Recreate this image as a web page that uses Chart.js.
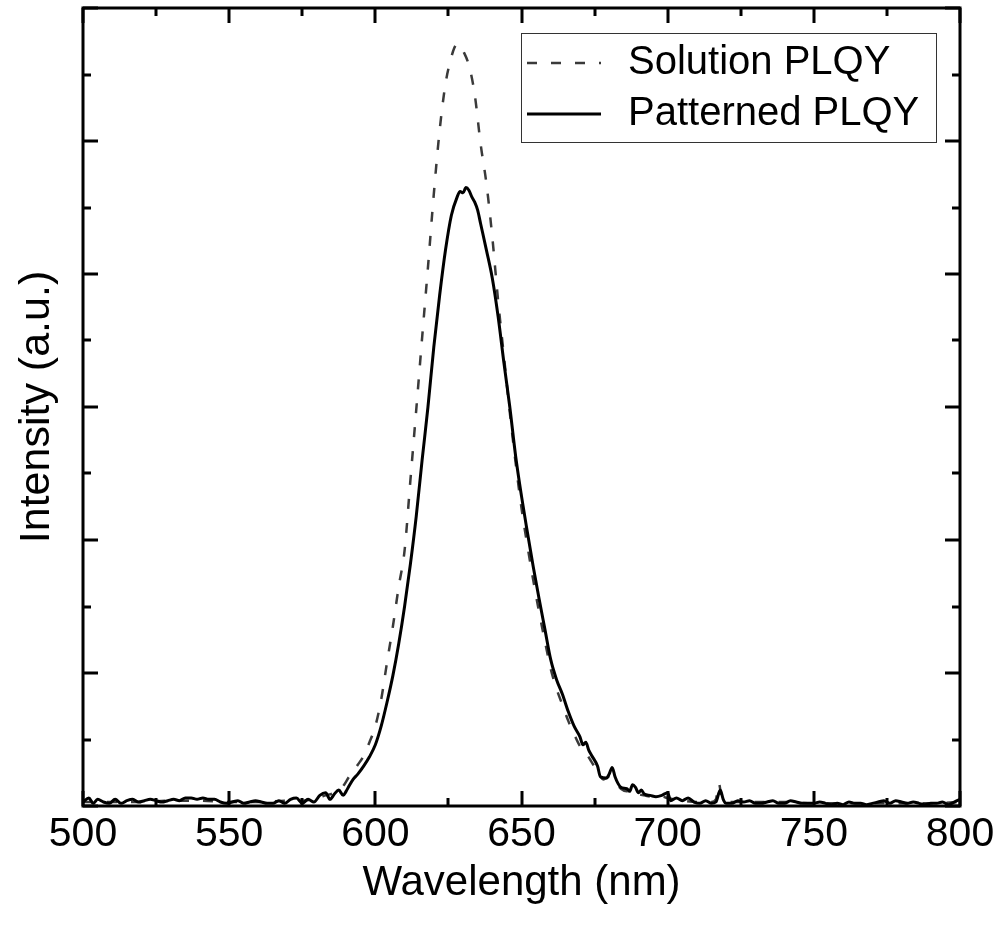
<!DOCTYPE html>
<html>
<head>
<meta charset="utf-8">
<script src="https://cdn.jsdelivr.net/npm/chart.js@4.4.0/dist/chart.umd.min.js"></script>
<style>
  body { margin: 0; background: #fff; }
  #wrap { width: 1000px; height: 935px; }
</style>
</head>
<body>
<div id="wrap"><canvas id="plChart"></canvas></div>
<script>
// Patterned PLQY spectrum (solid line)
const patternedNm = [500, 502, 503.5, 505, 507, 509, 511, 513, 515, 517, 519, 521, 523, 525, 527, 529, 531, 533, 535, 537, 539, 541, 543, 545, 547, 549, 551, 553, 555, 557, 559, 561, 563, 565, 567, 569, 571, 573, 575, 577, 579, 581, 583, 584.5, 586, 587.5, 589, 590, 591, 592.4, 594, 596, 598, 600, 602, 604, 606, 608, 610, 612, 614, 616, 618, 620, 622, 624, 626, 628, 629, 630, 631, 632, 633, 634, 635, 636, 638, 640, 642, 644, 646, 648, 650, 652, 654, 656, 658, 660, 662, 664, 666, 668, 670, 671, 672, 673, 674, 676, 677, 679, 680, 681, 682, 683, 684, 686, 687, 688, 689, 690, 691, 692, 694, 696, 698, 700, 701, 703, 705, 707, 709, 711, 713, 715, 716.5, 718, 719, 720, 722, 724, 726, 728, 730, 732, 734, 736, 738, 740, 742, 744, 746, 748, 750, 752, 754, 756, 758, 760, 762, 764, 766, 768, 770, 772, 774, 776, 778, 780, 782, 784, 786, 788, 790, 792, 794, 796, 798, 800];
const patternedInt = [0.03, 0.06, 0.02, 0.05, 0.03, 0.02, 0.05, 0.02, 0.04, 0.05, 0.03, 0.04, 0.05, 0.04, 0.03, 0.04, 0.05, 0.04, 0.06, 0.06, 0.05, 0.06, 0.05, 0.05, 0.03, 0.02, 0.03, 0.04, 0.02, 0.03, 0.04, 0.03, 0.02, 0.02, 0.04, 0.02, 0.05, 0.06, 0.02, 0.05, 0.03, 0.08, 0.10, 0.05, 0.09, 0.12, 0.08, 0.11, 0.15, 0.20, 0.24, 0.30, 0.37, 0.46, 0.60, 0.78, 0.98, 1.22, 1.50, 1.82, 2.18, 2.60, 3.00, 3.45, 3.84, 4.18, 4.44, 4.58, 4.62, 4.61, 4.65, 4.63, 4.58, 4.54, 4.48, 4.38, 4.18, 3.97, 3.68, 3.33, 3.00, 2.63, 2.33, 2.06, 1.80, 1.56, 1.33, 1.10, 0.95, 0.84, 0.71, 0.60, 0.52, 0.46, 0.48, 0.42, 0.38, 0.30, 0.22, 0.21, 0.24, 0.29, 0.22, 0.17, 0.14, 0.13, 0.11, 0.16, 0.14, 0.10, 0.12, 0.09, 0.08, 0.07, 0.08, 0.10, 0.04, 0.06, 0.04, 0.06, 0.03, 0.02, 0.04, 0.02, 0.03, 0.12, 0.05, 0.02, 0.02, 0.04, 0.03, 0.04, 0.02, 0.02, 0.03, 0.04, 0.02, 0.02, 0.04, 0.03, 0.02, 0.02, 0.02, 0.03, 0.02, 0.01, 0.02, 0.01, 0.03, 0.02, 0.02, 0.01, 0.02, 0.03, 0.04, 0.02, 0.04, 0.03, 0.02, 0.03, 0.02, 0.01, 0.02, 0.02, 0.03, 0.01, 0.03, 0.05];

// Solution PLQY spectrum (dashed line)
const solutionNm = [500, 510, 520, 530, 540, 550, 560, 570, 575, 580, 583, 586, 589, 591, 592.4, 594, 595.8, 598, 600, 602, 604, 606, 608, 610, 612, 614, 616, 618, 620, 622, 624, 626, 627, 628, 629, 630, 632, 634, 636, 638, 640, 642, 644, 646, 648, 650, 652, 654, 656, 658, 660, 662, 664, 666, 668, 670, 672, 674, 676, 678, 680, 682, 684, 686, 688, 690, 692, 694, 696, 698, 700, 705, 710, 715, 716.5, 717.5, 718.5, 720, 730, 740, 750, 760, 770, 780, 790, 800];
const solutionInt = [0.03, 0.03, 0.03, 0.04, 0.04, 0.03, 0.03, 0.04, 0.04, 0.06, 0.08, 0.10, 0.15, 0.22, 0.26, 0.31, 0.37, 0.48, 0.60, 0.80, 1.08, 1.35, 1.65, 1.92, 2.45, 2.98, 3.52, 4.05, 4.60, 5.08, 5.43, 5.63, 5.70, 5.73, 5.72, 5.68, 5.57, 5.35, 4.98, 4.68, 4.28, 3.80, 3.38, 2.96, 2.58, 2.24, 1.96, 1.70, 1.46, 1.24, 1.03, 0.88, 0.76, 0.64, 0.54, 0.45, 0.40, 0.33, 0.26, 0.20, 0.22, 0.18, 0.13, 0.11, 0.12, 0.09, 0.08, 0.07, 0.06, 0.07, 0.06, 0.04, 0.03, 0.03, 0.05, 0.17, 0.06, 0.03, 0.03, 0.03, 0.02, 0.02, 0.02, 0.02, 0.02, 0.03];

const xTickLabels = [500, 550, 600, 650, 700, 750, 800];

const FONT = '"Liberation Sans", Arial, Helvetica, sans-serif';

function toPoints(xs, ys) {
    return xs.map((x, i) => ({ x: x, y: ys[i] }));
}

// inward ticks on all four sides + black frame
const frameTicks = {
    id: 'frameTicks',
    afterDraw(chart) {
        const { ctx, chartArea: a, scales } = chart;
        const xs = scales.x, ys = scales.y;
        ctx.save();
        ctx.strokeStyle = '#000';
        ctx.lineWidth = 3;
        ctx.lineCap = 'butt';
        ctx.beginPath();
        // x ticks, major every 50, minor every 25
        for (let v = xs.min; v <= xs.max; v += 25) {
            const px = Math.round(xs.getPixelForValue(v));
            const len = (v % 50 === 0) ? 15 : 8;
            ctx.moveTo(px, a.bottom); ctx.lineTo(px, a.bottom - len);
            ctx.moveTo(px, a.top); ctx.lineTo(px, a.top + len);
        }
        // y ticks, major every 1, minor every 0.5
        for (let v = ys.min; v <= ys.max; v += 0.5) {
            const py = Math.round(ys.getPixelForValue(v));
            const len = (v % 1 === 0) ? 15 : 8;
            ctx.moveTo(a.left, py); ctx.lineTo(a.left + len, py);
            ctx.moveTo(a.right, py); ctx.lineTo(a.right - len, py);
        }
        ctx.stroke();
        ctx.strokeRect(a.left, a.top, a.right - a.left, a.bottom - a.top);
        ctx.restore();
    }
};

// boxed legend inside the top-right corner
const boxLegend = {
    id: 'boxLegend',
    afterDraw(chart) {
        const { ctx, chartArea: a } = chart;
        const left = a.right - 439, top = a.top + 25;
        const w = 415, h = 109;
        ctx.save();
        ctx.fillStyle = '#fff';
        ctx.fillRect(left, top, w, h);
        ctx.strokeStyle = '#333';
        ctx.lineWidth = 1;
        ctx.strokeRect(left + 0.5, top + 0.5, w, h);
        ctx.font = '40px ' + FONT;
        ctx.textBaseline = 'middle';
        ctx.textAlign = 'left';
        chart.data.datasets.forEach((ds, i) => {
            const y = top + 30 + i * 51;
            ctx.strokeStyle = ds.borderColor;
            ctx.lineWidth = ds.borderWidth;
            ctx.setLineDash(ds.borderDash || []);
            ctx.beginPath();
            ctx.moveTo(left + 6, y);
            ctx.lineTo(left + 80, y);
            ctx.stroke();
            ctx.setLineDash([]);
            ctx.fillStyle = '#000';
            ctx.fillText(ds.label, left + 107, y);
        });
        ctx.restore();
    }
};

const ctx = document.getElementById('plChart').getContext('2d');
const plChart = new Chart(ctx, {
    type: 'line',
    data: {
        datasets: [{
            label: 'Solution PLQY',
            data: toPoints(solutionNm, solutionInt),
            borderColor: '#3a3a3a',
            borderWidth: 2.5,
            borderDash: [10, 14],
            pointRadius: 0,
            cubicInterpolationMode: 'monotone',
            order: 2
        }, {
            label: 'Patterned PLQY',
            data: toPoints(patternedNm, patternedInt),
            borderColor: '#000',
            borderWidth: 3,
            pointRadius: 0,
            cubicInterpolationMode: 'monotone',
            order: 1
        }]
    },
    options: {
        responsive: true,
        maintainAspectRatio: false,
        animation: false,
        layout: { padding: { top: 8, right: 40, left: 0, bottom: 0 } },
        plugins: {
            legend: { display: false },
            tooltip: { enabled: false }
        },
        scales: {
            x: {
                type: 'linear',
                min: 500,
                max: 800,
                afterBuildTicks: (scale) => {
                    scale.ticks = xTickLabels.map(v => ({ value: v }));
                },
                afterFit: (scale) => { scale.height = 129; },
                grid: { display: false, drawTicks: false },
                border: { display: false },
                ticks: {
                    padding: 4,
                    maxRotation: 0,
                    color: '#000',
                    font: { family: FONT, size: 41 }
                },
                title: {
                    display: true,
                    text: 'Wavelength (nm)',
                    color: '#000',
                    font: { family: FONT, size: 42 },
                    padding: { top: 0, bottom: 26 }
                }
            },
            y: {
                min: 0,
                max: 6,
                afterFit: (scale) => { scale.width = 83; },
                grid: { display: false, drawTicks: false },
                border: { display: false },
                ticks: { display: false },
                title: {
                    display: true,
                    text: 'Intensity (a.u.)',
                    color: '#000',
                    font: { family: FONT, size: 43 },
                    padding: { top: 11, bottom: 0 }
                }
            }
        }
    },
    plugins: [frameTicks, boxLegend]
});
</script>
</body>
</html>
